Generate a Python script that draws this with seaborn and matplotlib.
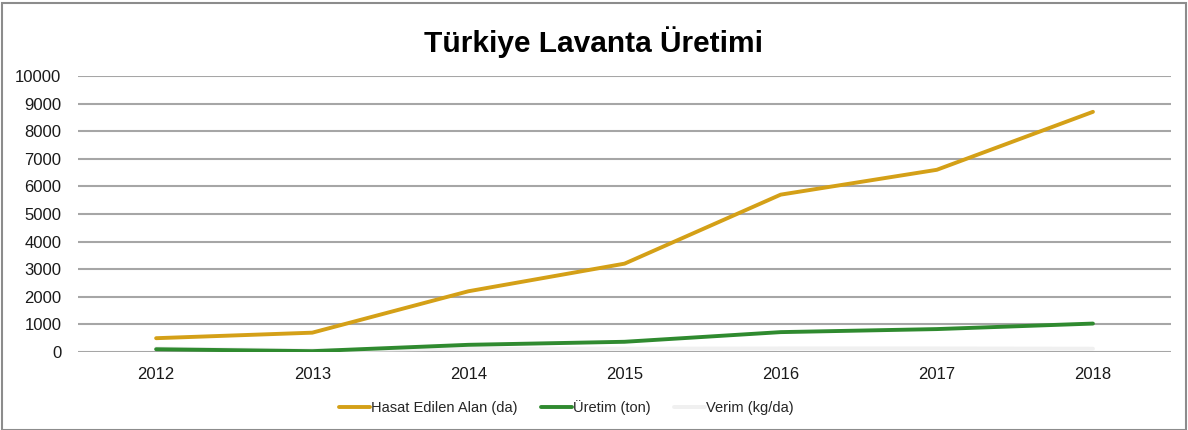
import matplotlib
matplotlib.use("Agg")
import matplotlib.pyplot as plt
import seaborn as sns
import pandas as pd
from matplotlib.patches import Rectangle

# Chart data
years = ["2012", "2013", "2014", "2015", "2016", "2017", "2018"]
hasat_alan = [500, 700, 2200, 3200, 5700, 6600, 8700]
uretim = [100, 30, 260, 370, 720, 830, 1030]
verim = [130, 60, 120, 120, 130, 130, 120]

series_names = ["Hasat Edilen Alan (da)", "Üretim (ton)", "Verim (kg/da)"]
palette = {
    "Hasat Edilen Alan (da)": "#D4A017",
    "Üretim (ton)": "#2F8A2F",
    "Verim (kg/da)": "#F0F0F0",
}

df = pd.DataFrame({
    "Yıl": years * 3,
    "Değer": hasat_alan + uretim + verim,
    "Seri": [series_names[0]] * 7 + [series_names[1]] * 7 + [series_names[2]] * 7,
})

sns.set_style("white")
plt.rcParams["font.family"] = ["Liberation Sans", "DejaVu Sans"]

fig = plt.figure(figsize=(11.88, 4.30), dpi=100)
ax = fig.add_axes([0.0657, 0.1814, 0.920, 0.642])

ax.set_axisbelow(True)
ax.yaxis.grid(True, color="#A6A6A6", linewidth=1.5)

sns.lineplot(data=df, x="Yıl", y="Değer", hue="Seri", hue_order=series_names,
             palette=palette, linewidth=2.8, sort=False, ax=ax)

# the pale Verim line sits behind the others
ax.lines[2].set_zorder(1.8)

ax.set_xlim(-0.5, 6.5)
ax.set_ylim(0, 10000)
ax.set_yticks(range(0, 10001, 1000))
ax.set_xlabel("")
ax.set_ylabel("")
for s in ax.spines.values():
    s.set_visible(False)
ax.tick_params(axis="both", length=0, labelsize=12, colors="#1A1A1A")
ax.tick_params(axis="y", pad=12)
ax.tick_params(axis="x", pad=11)

ax.legend(loc="upper center", bbox_to_anchor=(0.447, -0.125), ncol=3, frameon=False,
          fontsize=10.5, handlelength=2.1, handletextpad=0.1, columnspacing=1.6)

fig.suptitle("Türkiye Lavanta Üretimi", fontsize=21.5, fontweight="bold", y=0.94,
             color="black")

# outer chart border
fig.patches.append(Rectangle((0.002, 0.0), 0.996, 0.993, transform=fig.transFigure,
                             fill=False, edgecolor="#8C8C8C", linewidth=1.5))

fig.savefig("out.png", dpi=100)
